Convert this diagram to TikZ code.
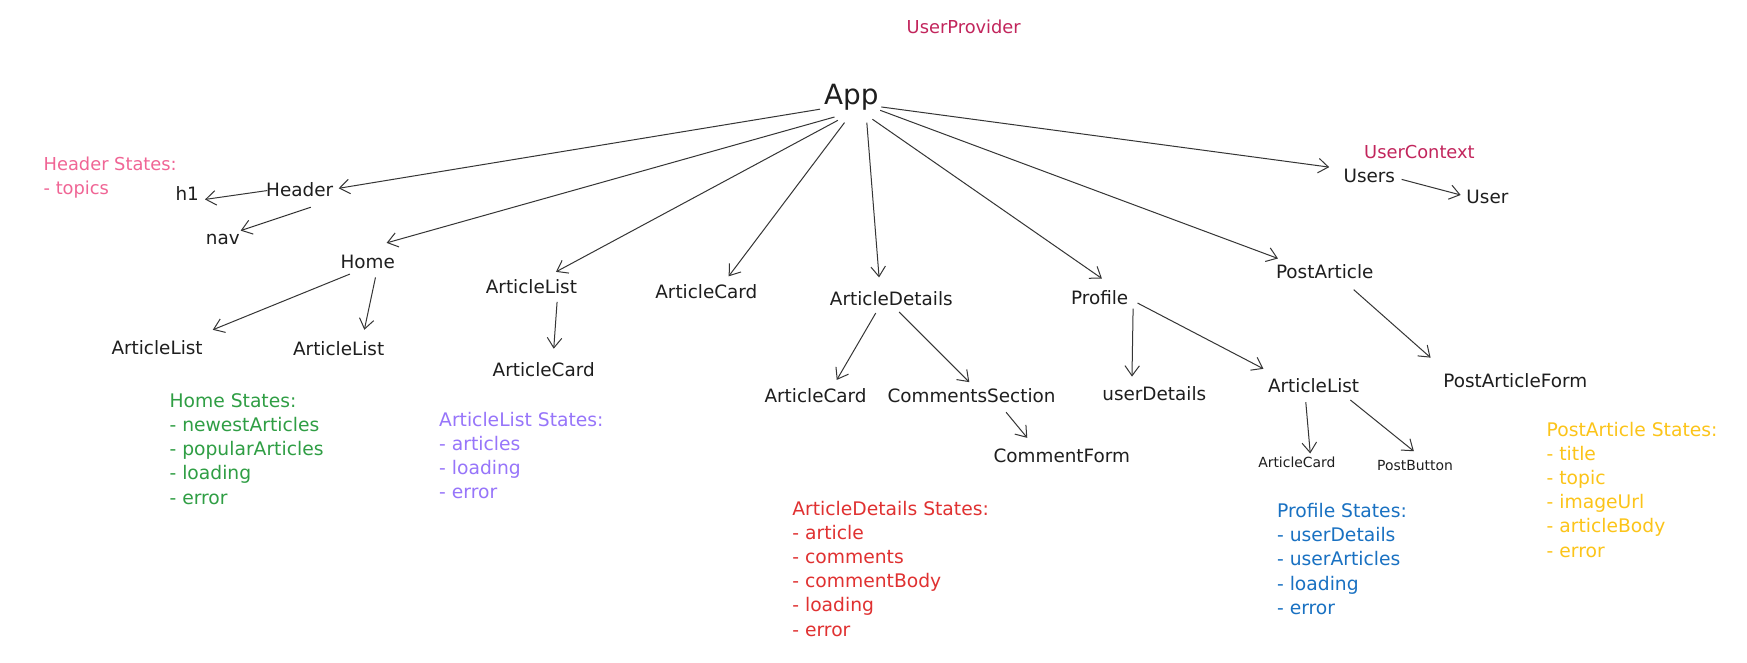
\documentclass[tikz,border=0pt]{standalone}
\usepackage{fontspec}
\setmainfont{DejaVu Sans}
\usetikzlibrary{arrows.meta}
\definecolor{ink}{HTML}{1E1E1E}
\definecolor{cpink}{HTML}{F06595}
\definecolor{cprov}{HTML}{C2255C}
\definecolor{cgreen}{HTML}{2F9E44}
\definecolor{cviolet}{HTML}{9775FA}
\definecolor{cred}{HTML}{E03131}
\definecolor{cblue}{HTML}{1971C2}
\definecolor{cyellow}{HTML}{FCC419}
\newcommand\link[4]{\draw[arr] ([shift={(#2)}]#1.center) -- ([shift={(#4)}]#3.center);}
\begin{document}
\begin{tikzpicture}[x=1pt,y=-1pt,
  lbl/.style={text=ink,inner sep=0pt,font=\fontsize{16.5}{20}\selectfont},
  small/.style={text=ink,inner sep=0pt,font=\fontsize{12.5}{15}\selectfont},
  states/.style={anchor=north west,inner sep=0pt,align=left,font=\fontsize{16.8}{21.7}\selectfont},
  ctx/.style={inner sep=0pt,text=cprov,font=\fontsize{16}{20}\selectfont},
  arr/.style={draw=ink!90,line width=0.9pt,-{Straight Barb[length=9pt,width=13pt]}}]
\fill[white] (0,0) rectangle (1568,595);
\useasboundingbox (0,0) rectangle (1568,595);

% context labels
\node[ctx] (upv) at (865,24.5) {UserProvider};
\node[ctx] (uctx) at (1274,136) {UserContext};

% nodes
\node[text=ink,inner sep=0pt,font=\fontsize{25}{30}\selectfont] (app) at (764,87) {App};
\node[lbl] (header) at (269,170) {Header};
\node[lbl] (h1) at (168,174) {h1};
\node[lbl] (nav) at (200,215) {nav};
\node[lbl] (home) at (330,235) {Home};
\node[lbl] (ala) at (141,312) {ArticleList};
\node[lbl] (alb) at (304,313) {ArticleList};
\node[lbl] (al2) at (477,257) {ArticleList};
\node[lbl] (ac2) at (488,332) {ArticleCard};
\node[lbl] (ac1) at (634,262) {ArticleCard};
\node[lbl] (ad) at (800,268) {ArticleDetails};
\node[lbl] (ac3) at (732,355) {ArticleCard};
\node[lbl] (cs) at (872,355) {CommentsSection};
\node[lbl] (cf) at (953,409) {CommentForm};
\node[lbl] (prof) at (987,267) {Profile};
\node[lbl] (ud) at (1036,353) {userDetails};
\node[lbl] (alp) at (1179,346) {ArticleList};
\node[small] (acp) at (1164,415) {ArticleCard};
\node[small] (pb) at (1270,418) {PostButton};
\node[lbl] (pa) at (1189,244) {PostArticle};
\node[lbl] (paf) at (1360,342) {PostArticleForm};
\node[lbl] (users) at (1229,158) {Users};
\node[lbl] (user) at (1335,177) {User};

% state blocks
\node[states,text=cpink,font=\fontsize{16}{21.7}\selectfont] (hs) at (39,140.5) {Header States:\\- topics};
\node[states,text=cgreen] (hos) at (152,353) {Home States:\\- newestArticles\\- popularArticles\\- loading\\- error};
\node[states,text=cviolet] (als) at (394,369.5) {ArticleList States:\\- articles\\- loading\\- error};
\node[states,text=cred] (ads) at (711,449.5) {ArticleDetails States:\\- article\\- comments\\- commentBody\\- loading\\- error};
\node[states,text=cblue] (ps) at (1146,451.5) {Profile States:\\- userDetails\\- userArticles\\- loading\\- error};
\node[states,text=cyellow] (pas) at (1388,378.5) {PostArticle States:\\- title\\- topic\\- imageUrl\\- articleBody\\- error};

% connectors
\link{app}{-28,11}{header}{35,-1}
\link{app}{-15,18}{home}{17,-17}
\link{app}{-12,21}{al2}{22,-13}
\link{app}{-6,23}{ac1}{20,-14}
\link{app}{14,23}{ad}{-11,-19}
\link{app}{19,20}{prof}{2,-17}
\link{app}{26,12}{pa}{-42,-12}
\link{app}{27,9}{users}{-36,-8}
\link{header}{-29,1}{h1}{16,5}
\link{header}{10,16}{nav}{16,-8}
\link{home}{-16,11}{ala}{50,-16}
\link{home}{7,14}{alb}{23,-17}
\link{al2}{23,14}{ac2}{9,-19}
\link{ad}{-14,13}{ac3}{19,-14}
\link{ad}{7,12}{cs}{-2,-12}
\link{cs}{31,15}{cf}{-31,-16}
\link{prof}{30,10}{ud}{-20,-15}
\link{prof}{34,5}{alp}{-45,-15}
\link{users}{29,3}{user}{-24,-2}
\link{pa}{26,16}{paf}{-76,-21}
\link{alp}{-7,15}{acp}{12,-8}
\link{alp}{33,13}{pb}{-1,-13}
\end{tikzpicture}
\end{document}
